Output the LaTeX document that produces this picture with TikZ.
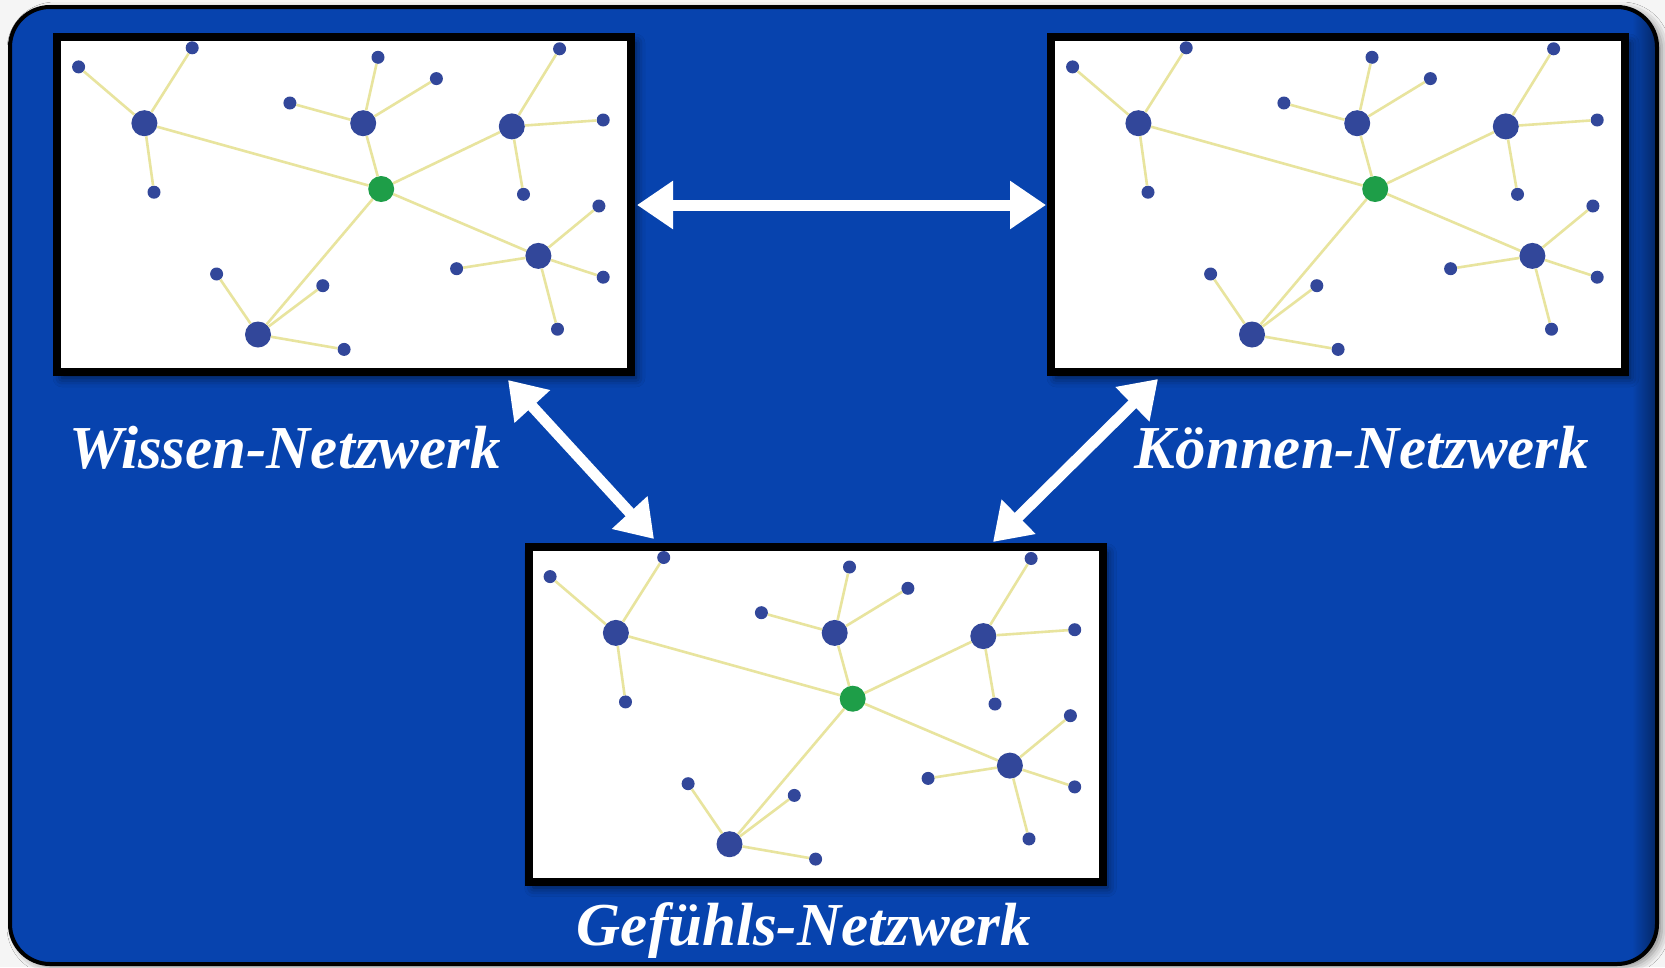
\documentclass[tikz,border=0pt]{standalone}
\usepackage{fontspec}
\setmainfont{Liberation Serif}
\usetikzlibrary{arrows.meta,shadows.blur}

\definecolor{bgblue}{HTML}{0743AE}
\definecolor{hubblue}{HTML}{32479A}
\definecolor{hubgreen}{HTML}{1E9E48}
\definecolor{linkyellow}{HTML}{E8E49E}

\tikzset{
  hub/.style={circle, fill=hubblue, minimum size=26pt, inner sep=0pt},
  leaf/.style={circle, fill=hubblue, minimum size=13pt, inner sep=0pt},
  core/.style={circle, fill=hubgreen, minimum size=26pt, inner sep=0pt},
  netlink/.style={draw=linkyellow, line width=2.6pt},
  panel/.style={draw=black, line width=8pt, fill=white, inner sep=0pt,
    minimum width=574pt, minimum height=335pt,
    blur shadow={shadow xshift=5pt, shadow yshift=-6pt, shadow blur radius=9pt, shadow opacity=60}},
  biarrow/.style={draw=white, line width=11pt,
    {Triangle[length=36pt,width=46pt]}-{Triangle[length=36pt,width=46pt]}},
  netlabel/.style={text=white, font=\fontsize{61}{70}\selectfont\bfseries\itshape,
    inner sep=0pt, anchor=base}
}

% one small network: green core, five hubs, leaves around each hub
\newcommand{\netgraph}{%
  \node[core] (c)  at (381.2,189.0) {};
  \node[hub]  (h1) at (144.4,123.2) {};
  \node[hub]  (h2) at (363.2,123.2) {};
  \node[hub]  (h3) at (511.8,126.4) {};
  \node[hub]  (h4) at (538.4,255.9) {};
  \node[hub]  (h5) at (258.0,334.5) {};
  \node[leaf] (l1)  at (78.6,66.9) {};
  \node[leaf] (l2)  at (192.2,47.8) {};
  \node[leaf] (l3)  at (154.0,192.2) {};
  \node[leaf] (l4)  at (378.0,57.3) {};
  \node[leaf] (l5)  at (436.4,78.6) {};
  \node[leaf] (l6)  at (289.9,103.0) {};
  \node[leaf] (l7)  at (559.6,48.8) {};
  \node[leaf] (l8)  at (603.2,120.0) {};
  \node[leaf] (l9)  at (523.5,194.3) {};
  \node[leaf] (l10) at (598.9,206.0) {};
  \node[leaf] (l11) at (603.2,277.2) {};
  \node[leaf] (l12) at (557.5,329.2) {};
  \node[leaf] (l13) at (456.6,268.7) {};
  \node[leaf] (l14) at (216.6,274.0) {};
  \node[leaf] (l15) at (322.8,285.7) {};
  \node[leaf] (l16) at (344.1,349.4) {};
  \draw[netlink] (c) -- (h1) (c) -- (h2) (c) -- (h3) (c) -- (h4) (c) -- (h5);
  \draw[netlink] (h1) -- (l1) (h1) -- (l2) (h1) -- (l3);
  \draw[netlink] (h2) -- (l4) (h2) -- (l5) (h2) -- (l6);
  \draw[netlink] (h3) -- (l7) (h3) -- (l8) (h3) -- (l9);
  \draw[netlink] (h4) -- (l10) (h4) -- (l11) (h4) -- (l12) (h4) -- (l13);
  \draw[netlink] (h5) -- (l14) (h5) -- (l15) (h5) -- (l16);
}

\begin{document}
\begin{tikzpicture}[x=1pt, y=-1pt]
  \useasboundingbox (0,0) rectangle (1665,967);
  \fill[white!96!black] (0,0) rectangle (1665,967);

  % blue frame with a soft shadow outside and a darker rim inside on the right
  \fill[bgblue, rounded corners=40pt,
        blur shadow={shadow xshift=5pt, shadow yshift=-3pt, shadow blur radius=8pt, shadow opacity=45}]
    (10,7) rectangle (1657,964);
  \begin{scope}
    \clip[rounded corners=40pt] (10,7) rectangle (1657,964);
    \shade[left color=bgblue, right color=bgblue!55!black] (1632,0) rectangle (1658,967);
  \end{scope}
  \draw[line width=4pt, rounded corners=40pt] (10,7) rectangle (1657,964);

  % panels
  \node[panel] (pw) at (344,204.5) {};
  \node[panel] (pk) at (1338,204.5) {};
  \node[panel] (pg) at (815.5,714.2) {};

  \begin{scope}[name prefix=w-]
    \netgraph
  \end{scope}
  \begin{scope}[shift={(994,0)}, name prefix=k-]
    \netgraph
  \end{scope}
  \begin{scope}[shift={(471.5,509.7)}, name prefix=g-]
    \netgraph
  \end{scope}

  % arrow ends
  \coordinate (hA) at (637,205);
  \coordinate (hB) at (1046,205);
  \coordinate (dA) at (508,380);
  \coordinate (dB) at (654,539);
  \coordinate (eA) at (1158,379);
  \coordinate (eB) at (993,542);

  \draw[biarrow] (hA) -- (hB);
  \draw[biarrow] (dA) -- (dB);
  \draw[biarrow] (eA) -- (eB);

  % captions
  \node[netlabel] (tw) at (285,468) {Wissen-Netzwerk};
  \node[netlabel] (tk) at (1362,468) {Können-Netzwerk};
  \node[netlabel] (tg) at (804,945) {Gefühls-Netzwerk};
\end{tikzpicture}
\end{document}
